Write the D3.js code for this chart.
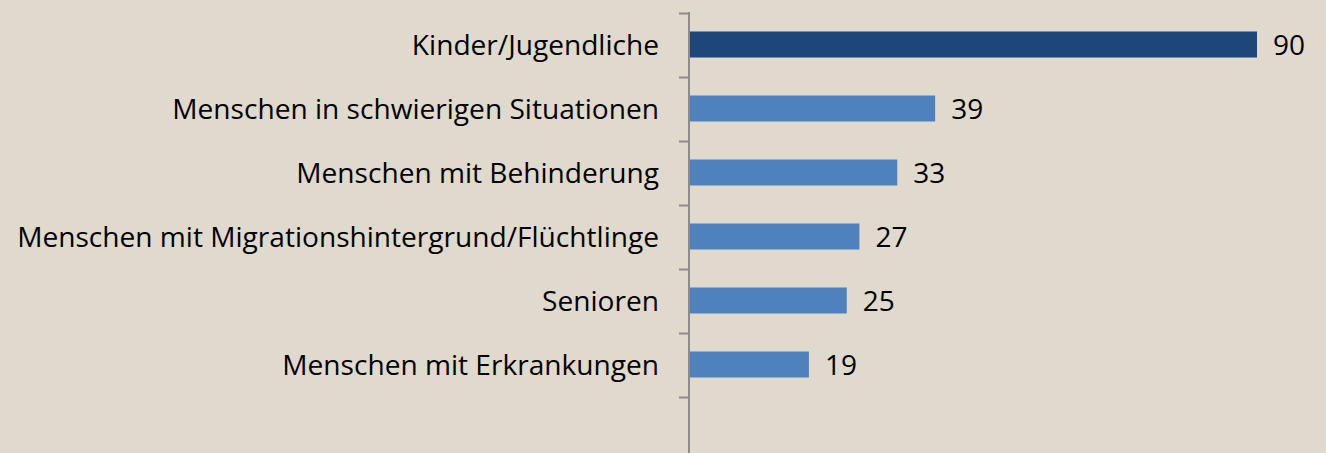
<!DOCTYPE html>
<html>
<head>
<meta charset="utf-8">
<script src="https://cdn.jsdelivr.net/npm/d3@7"></script>
<style>
  body { margin: 0; background: #e0d9cd; }
  svg { display: block; }
</style>
</head>
<body>
<div id="chart"></div>
<script>
const categories = [
    "Kinder/Jugendliche",
    "Menschen in schwierigen Situationen",
    "Menschen mit Behinderung",
    "Menschen mit Migrationshintergrund/Flüchtlinge",
    "Senioren",
    "Menschen mit Erkrankungen"
];
const values = [90, 39, 33, 27, 25, 19];
const highlight = "Kinder/Jugendliche";

const width = 1326, height = 453;
const axisX = 689;
const fontFamily = "'Open Sans', sans-serif";

const svg = d3.select("#chart")
    .append("svg")
    .attr("width", width)
    .attr("height", height);

svg.append("rect")
    .attr("width", width)
    .attr("height", height)
    .attr("fill", "#e0d9cd");

// y: 7 bands (the last one is empty), boundaries every 64px
const y = d3.scaleBand()
    .domain([...categories, ""])
    .range([12.5, 460.5])
    .paddingInner(0)
    .paddingOuter(0);

const x = d3.scaleLinear()
    .domain([0, 90])
    .range([axisX, 1257]);

const barH = 26;

// Bars
svg.selectAll("rect.bar")
    .data(categories)
    .enter()
    .append("rect")
    .attr("class", "bar")
    .attr("x", x(0))
    .attr("y", d => y(d) + y.bandwidth() / 2 - barH / 2)
    .attr("width", (d, i) => x(values[i]) - x(0))
    .attr("height", barH)
    .attr("fill", d => d === highlight ? "#1f4678" : "#4f81bd");

// Value labels
svg.selectAll("text.val")
    .data(categories)
    .enter()
    .append("text")
    .attr("class", "val")
    .attr("x", (d, i) => x(values[i]) + 16)
    .attr("y", d => y(d) + y.bandwidth() / 2)
    .attr("dy", "0.36em")
    .style("font-family", fontFamily)
    .style("font-size", "28px")
    .attr("fill", "#000")
    .text((d, i) => values[i]);

// Category labels
svg.selectAll("text.cat")
    .data(categories)
    .enter()
    .append("text")
    .attr("class", "cat")
    .attr("x", 659)
    .attr("y", d => y(d) + y.bandwidth() / 2)
    .attr("dy", "0.36em")
    .attr("text-anchor", "end")
    .style("font-family", fontFamily)
    .style("font-size", "28.1px")
    .attr("fill", "#000")
    .text(d => d);

// Axis line and ticks at band boundaries
const ticks = d3.range(0, 7).map(i => y.range()[0] + i * y.step());
svg.append("line")
    .attr("x1", axisX).attr("x2", axisX)
    .attr("y1", 12).attr("y2", height)
    .attr("stroke", "#8c8c8c")
    .attr("stroke-width", 2);

svg.selectAll("line.tick")
    .data(ticks)
    .enter()
    .append("line")
    .attr("class", "tick")
    .attr("x1", 679).attr("x2", axisX)
    .attr("y1", d => Math.round(d) + 0.5).attr("y2", d => Math.round(d) + 0.5)
    .attr("stroke", "#8c8c8c")
    .attr("stroke-width", 2);
</script>
</body>
</html>
